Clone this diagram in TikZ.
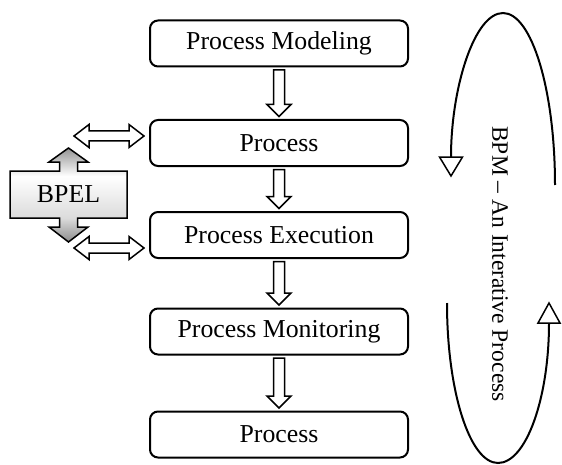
\documentclass[tikz,border=0pt]{standalone}
\usepackage{fontspec}
\setmainfont{Liberation Serif}
\usetikzlibrary{calc}
\pgfdeclareverticalshading{bpelshade}{100bp}{color(0bp)=(black!45); color(25bp)=(black!45); color(37.8bp)=(black!14); color(60bp)=(white); color(75bp)=(black!42); color(100bp)=(black!42)}
\tikzset{
  procbox/.style={draw, line width=1pt, rounded corners=4pt, minimum width=129pt, minimum height=23pt, inner sep=0pt, font=\fontsize{12.9}{15}\selectfont},
  harrow/.style={draw, line width=0.75pt, fill=white, line join=miter},
  loopline/.style={draw, line width=1pt},
  loophead/.style={draw, line width=0.75pt, fill=white, line join=miter}
}
\newcommand{\hollowdown}[2]{%
  \draw[harrow] let \p1=(#1.south), \p2=(#2.north) in
    (\x1-2.75pt,\y1-1.25pt) -- (\x1+2.75pt,\y1-1.25pt) -- (\x1+2.75pt,\y2+7.25pt)
    -- (\x1+6pt,\y2+7.25pt) -- (\x1,\y2+1.25pt) -- (\x1-6pt,\y2+7.25pt)
    -- (\x1-2.75pt,\y2+7.25pt) -- cycle;}
\newcommand{\hollowdouble}[2]{%
  \draw[harrow] let \p1=(#1), \p2=(#2) in
    (\x1,\y1) -- (\x1+7.5pt,\y1+5.75pt) -- (\x1+7.5pt,\y1+2.5pt)
    -- (\x2-7.5pt,\y1+2.5pt) -- (\x2-7.5pt,\y1+5.75pt) -- (\x2,\y1)
    -- (\x2-7.5pt,\y1-5.75pt) -- (\x2-7.5pt,\y1-2.5pt) -- (\x1+7.5pt,\y1-2.5pt)
    -- (\x1+7.5pt,\y1-5.75pt) -- cycle;}
\begin{document}
\begin{tikzpicture}[x=0.5pt,y=-0.5pt]
\useasboundingbox (0,0) rectangle (562,465);
% process boxes
\node[procbox] (b1) at (279,43.5) {Process Modeling};
\node[procbox] (b2) at (279,143) {Process};
\node[procbox] (b3) at (279,235) {Process Execution};
\node[procbox] (b4) at (279,331.5) {Process Monitoring};
\node[procbox] (b5) at (279,434.5) {Process};
% hollow arrows between boxes
\hollowdown{b1}{b2}
\hollowdown{b2}{b3}
\hollowdown{b3}{b4}
\hollowdown{b4}{b5}
% BPEL shape
\path[draw, line width=0.75pt, shading=bpelshade, line join=miter]
  (68.5,148) -- (88,162) -- (77.5,162) -- (77.5,171) -- (127,171) -- (127,218)
  -- (77.5,218) -- (77.5,227) -- (88,227) -- (68.5,242) -- (49,227) -- (59.5,227)
  -- (59.5,218) -- (10,218) -- (10,171) -- (59.5,171) -- (59.5,162) -- (49,162) -- cycle;
\node[font=\fontsize{12.9}{15}\selectfont] (bpel) at (68.5,194.5) {BPEL};
% double arrows
\coordinate (d1l) at (74,136);
\coordinate (d1r) at ($(b2.west)+(-5,-7)$);
\coordinate (d2l) at (74,248);
\coordinate (d2r) at ($(b3.west)+(-5,13)$);
\hollowdouble{d1l}{d1r}
\hollowdouble{d2l}{d2r}
% loop curves
\coordinate (u1) at (555,185);
\coordinate (utop) at (503,13);
\coordinate (uend) at (451,157);
\draw[loopline] (u1) .. controls (555,90) and (531.7,13) .. (utop)
  .. controls (474.3,13) and (451,88) .. (uend);
\draw[loophead] (uend) -- (439.5,157) -- (451,176) -- (462.5,157) -- cycle;
\coordinate (l1) at (447,303);
\coordinate (lbot) at (498,463);
\coordinate (lend) at (549,323);
\draw[loopline] (l1) .. controls (447,391.4) and (469.8,463) .. (lbot)
  .. controls (526.2,463) and (549,398) .. (lend);
\draw[loophead] (lend) -- (538,323) -- (549,303) -- (560,323) -- cycle;
% vertical label
\node[rotate=-90, font=\fontsize{11.75}{14}\selectfont] (bpm) at (500,264) {BPM -- An Interative Process};
\end{tikzpicture}
\end{document}
